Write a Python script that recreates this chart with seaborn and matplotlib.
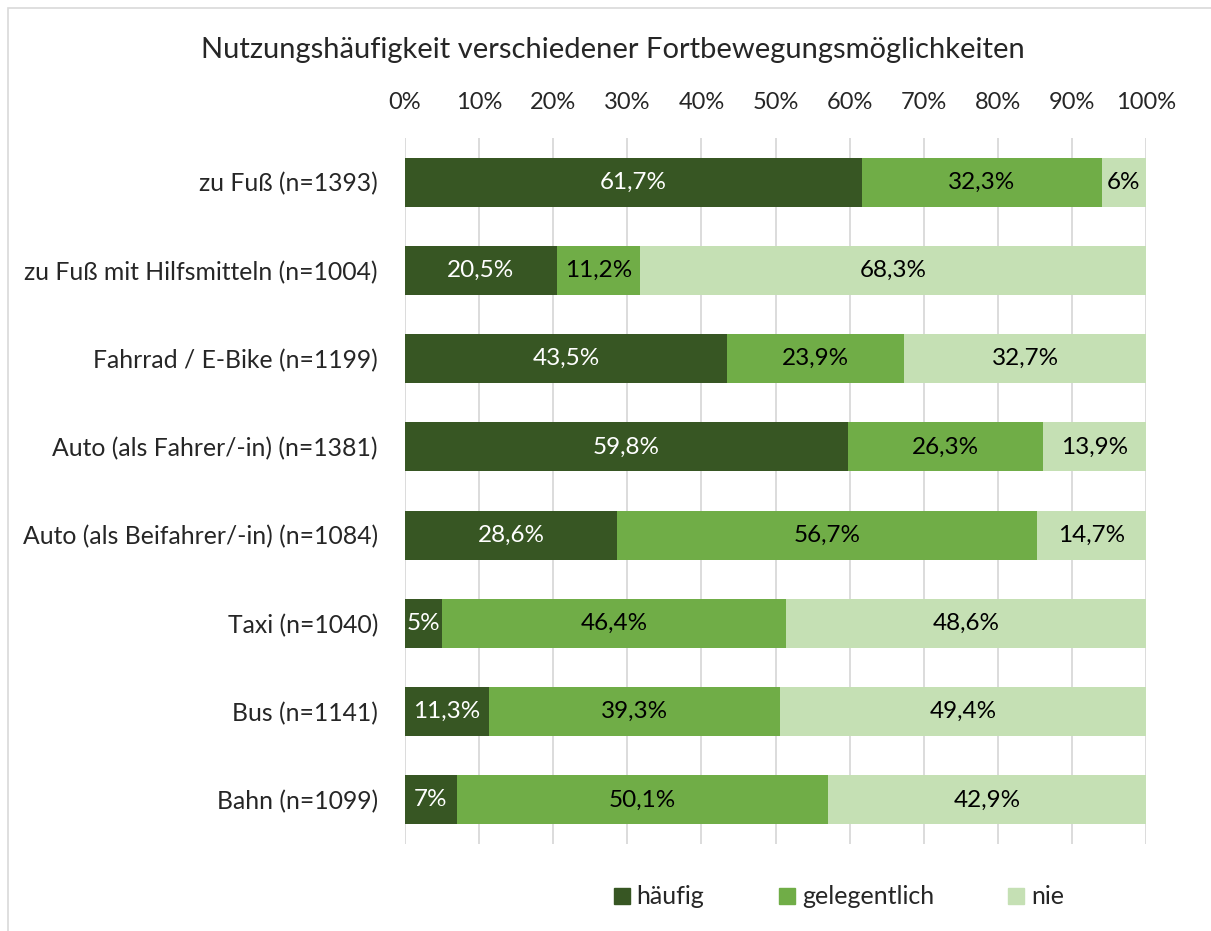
import numpy as np
import pandas as pd
import seaborn as sns
import matplotlib.pyplot as plt
from matplotlib.patches import Rectangle
from matplotlib.lines import Line2D

categories = ["zu Fuß (n=1393)", "zu Fuß mit Hilfsmitteln (n=1004)", "Fahrrad / E-Bike (n=1199)",
              "Auto (als Fahrer/-in) (n=1381)", "Auto (als Beifahrer/-in) (n=1084)",
              "Taxi (n=1040)", "Bus (n=1141)", "Bahn (n=1099)"]
haeufig = [61.7, 20.5, 43.5, 59.8, 28.6, 5, 11.3, 7]
gelegentlich = [32.3, 11.2, 23.9, 26.3, 56.7, 46.4, 39.3, 50.1]
nie = [6, 68.3, 32.7, 13.9, 14.7, 48.6, 49.4, 42.9]
series_names = ["häufig", "gelegentlich", "nie"]
colors = ["#375623", "#70AD47", "#C5E0B4"]
text_colors = ["white", "black", "black"]

sns.set_style("white")
plt.rcParams['font.family'] = ['Lato', 'DejaVu Sans']

df = pd.DataFrame({"cat": categories, "h": haeufig, "g": gelegentlich, "n": nie})
df["hg"] = df["h"] + df["g"]
df["hgn"] = df["hg"] + df["n"]

fig = plt.figure(figsize=(12.11, 9.31), dpi=100)
ax = fig.add_axes([405 / 1211, 1 - 844 / 931, (1146 - 405) / 1211, (844 - 138) / 931])

# stacked bars: draw cumulative totals back to front
for col, c in zip(["hgn", "hg", "h"], colors[::-1]):
    sns.barplot(data=df, x=col, y="cat", color=c, width=0.555, ax=ax,
                saturation=1, edgecolor="none", linewidth=0, zorder=2)

def fmt(v):
    s = f"{v:.1f}".replace(".", ",")
    if s.endswith(",0"):
        s = s[:-2]
    return s + "%"

for i in range(len(categories)):
    left = 0
    for vals, tc in zip([haeufig, gelegentlich, nie], text_colors):
        v = vals[i]
        ax.text(left + v / 2, i, fmt(v), ha="center", va="center", color=tc, fontsize=17.5, zorder=3)
        left += v

ax.set_xlim(0, 100)
ax.set_ylim(7.5, -0.5)
ax.set_xticks(np.arange(0, 101, 10))
ax.set_xticklabels([f"{t}%" for t in range(0, 101, 10)])
ax.xaxis.tick_top()
ax.tick_params(axis="x", labelsize=17, length=0, pad=18)
ax.tick_params(axis="y", labelsize=17.8, length=0, pad=19.5)
ax.set_xlabel("")
ax.set_ylabel("")
ax.grid(axis="x", color="#D9D9D9", linewidth=1.3, zorder=0)
ax.set_axisbelow(True)
for s in ax.spines.values():
    s.set_visible(False)

fig.text(613 / 1211, 1 - 50 / 931, "Nutzungshäufigkeit verschiedener Fortbewegungsmöglichkeiten",
         ha="center", va="center", fontsize=21)

handles = [Line2D([], [], marker="s", linestyle="none", markersize=12, markerfacecolor=c,
                  markeredgecolor=c) for c in colors]
fig.legend(handles, series_names, loc="center", bbox_to_anchor=(838 / 1211, 1 - 897 / 931), ncol=3,
           frameon=False, fontsize=18, handletextpad=0.2, columnspacing=2.9, handlelength=0.8)

fig.patches.append(Rectangle((8 / 1211, -0.01), 1.1, 1 - 8 / 931 + 0.01, transform=fig.transFigure,
                             fill=False, edgecolor="#D9D9D9", linewidth=1.2))

fig.savefig("out.png", dpi=100)
